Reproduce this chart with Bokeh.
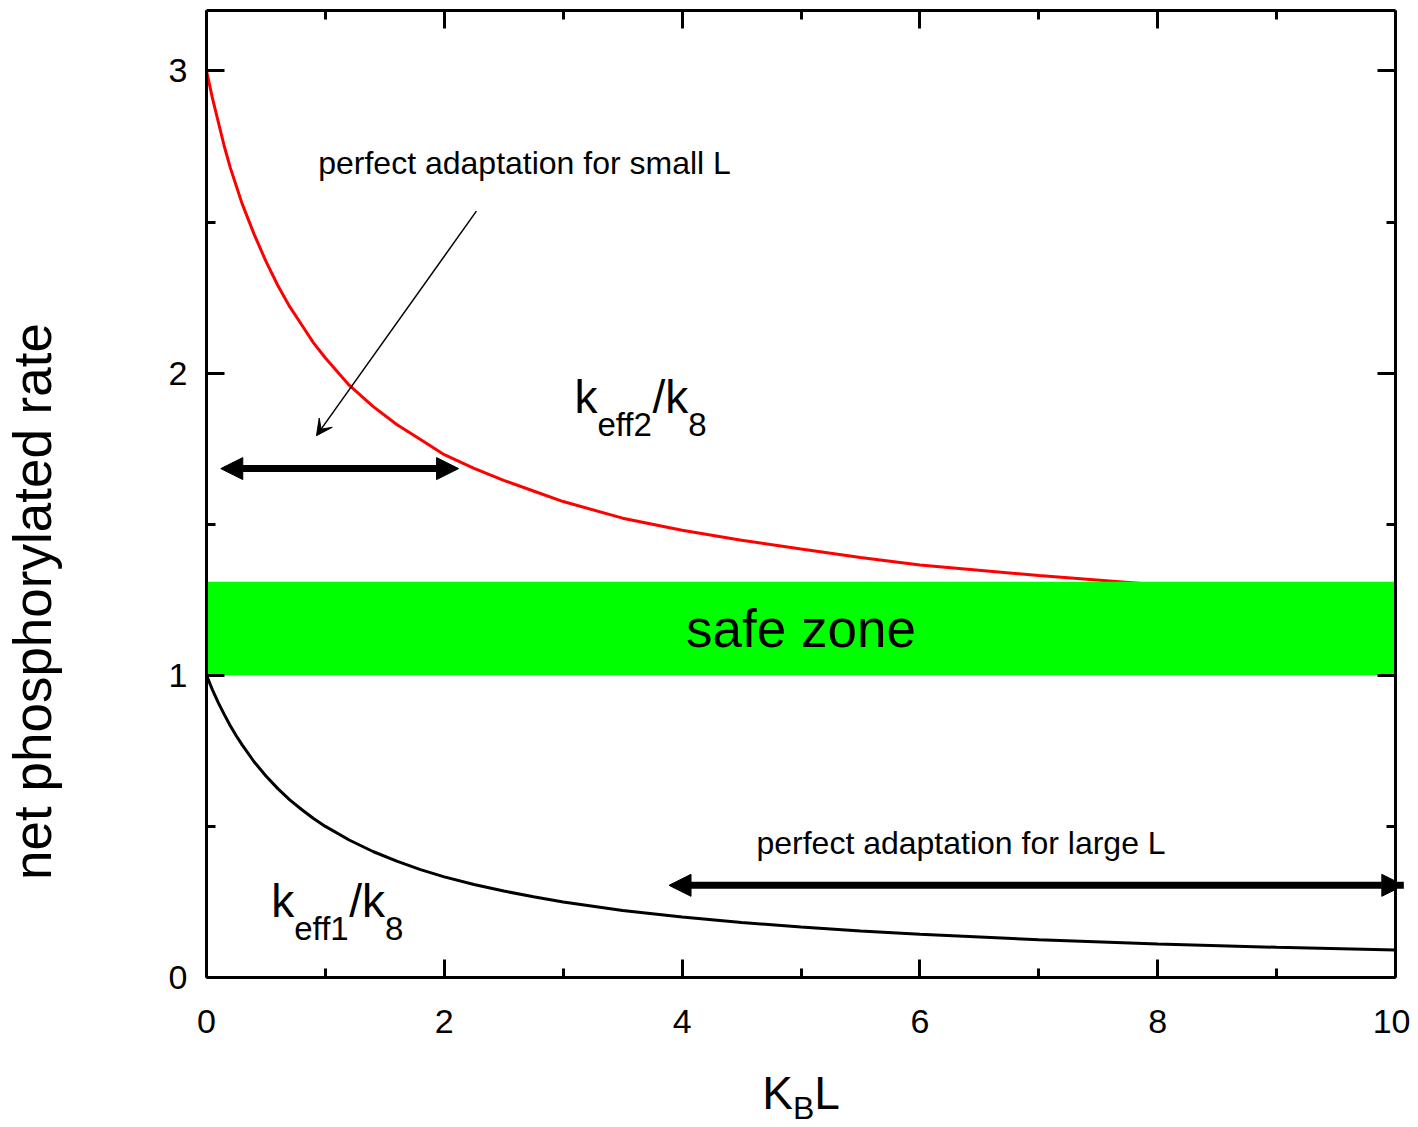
import math
from bokeh.plotting import figure
from bokeh.layouts import row, column
from bokeh.models import (Label, Arrow, NormalHead, VeeHead, FixedTicker, LinearAxis,
                          Range1d, CustomJSTickFormatter, ColumnDataSource)
from bokeh.embed import file_html
from bokeh.resources import INLINE

# ---------------- data ----------------
kbl = [0, 0.05, 0.1, 0.15, 0.2, 0.25, 0.3, 0.4, 0.5, 0.6, 0.7, 0.8, 0.9, 1.0, 1.2, 1.4, 1.6,
       1.8, 2.0, 2.25, 2.5, 2.75, 3, 3.5, 4, 4.5, 5, 5.5, 6, 7, 8, 9, 10]
keff2_k8 = [3.00, 2.91, 2.83, 2.75, 2.68, 2.62, 2.56, 2.46, 2.37, 2.29, 2.22, 2.16, 2.10, 2.05,
            1.96, 1.89, 1.83, 1.78, 1.73, 1.685, 1.645, 1.61, 1.575, 1.52, 1.48, 1.447, 1.418,
            1.39, 1.365, 1.33, 1.30, 1.28, 1.26]
keff1_k8 = [1.00, 0.952, 0.909, 0.87, 0.833, 0.80, 0.77, 0.714, 0.667, 0.625, 0.588, 0.556,
            0.526, 0.50, 0.455, 0.417, 0.385, 0.357, 0.333, 0.308, 0.286, 0.267, 0.25, 0.222,
            0.20, 0.182, 0.167, 0.154, 0.143, 0.125, 0.111, 0.10, 0.091]

x_major = [0, 2, 4, 6, 8, 10]
x_minor = [1, 3, 5, 7, 9]
y_major = [0, 1, 2, 3]
y_minor = [0.5, 1.5, 2.5]

safe_low = [1.0]
safe_high = [1.31]
safe_left = [0]
safe_right = [10]

small_L_arrow = [0.12, 2.12, 1.684]     # x_start, x_end, y
large_L_arrow = [3.89, 10.07, 0.305]    # x_start, x_end, y
pointer_arrow = [2.27, 2.536, 0.925, 1.793]  # x0, y0, x1, y1

FONT = "Liberation Sans"
LEFT_W = 70
BASE_FIX = 0.32   # renderer places the alphabetic baseline this many ems low

p = figure(width=1340, height=1060, x_range=Range1d(0, 10), y_range=Range1d(0, 3.2),
           output_backend="svg", toolbar_location=None,
           min_border_left=206 - LEFT_W, min_border_right=15, min_border_top=10,
           min_border_bottom=83)
p.xgrid.visible = False
p.ygrid.visible = False
p.outline_line_color = None
p.background_fill_color = "white"
p.border_fill_color = "white"


def style_axis(ax, major, minor, labels=True):
    ax.ticker = FixedTicker(ticks=major, minor_ticks=minor)
    ax.axis_line_width = 3
    ax.axis_line_color = "black"
    ax.major_tick_in = 18
    ax.major_tick_out = 0
    ax.minor_tick_in = 9
    ax.minor_tick_out = 0
    ax.major_tick_line_width = 3
    ax.minor_tick_line_width = 3
    ax.major_tick_line_color = "black"
    ax.minor_tick_line_color = "black"
    ax.major_label_text_font = FONT
    ax.major_label_text_font_size = "34px"
    ax.major_label_text_color = "black"
    if not labels:
        ax.formatter = CustomJSTickFormatter(code="return ''")
        ax.major_label_standoff = 0


style_axis(p.xaxis[0], x_major, x_minor)
p.xaxis[0].major_label_standoff = 32
style_axis(p.yaxis[0], y_major, y_minor)
p.yaxis[0].major_label_standoff = 19

top_axis = LinearAxis()
style_axis(top_axis, x_major, x_minor, labels=False)
p.add_layout(top_axis, "above")
right_axis = LinearAxis()
style_axis(right_axis, y_major, y_minor, labels=False)
p.add_layout(right_axis, "right")

# ---------------- curves ----------------
src = ColumnDataSource(dict(x=kbl, k2=keff2_k8, k1=keff1_k8))
p.line("x", "k2", source=src, line_color="#ff0000", line_width=3)
p.line("x", "k1", source=src, line_color="black", line_width=3)

# safe zone band (drawn over the red curve)
p.quad(left=safe_left, right=safe_right, bottom=safe_low, top=safe_high,
       fill_color="#00ff00", line_color=None)
p.add_layout(Label(x=5.0, y=1.155, text="safe zone", text_font=FONT, text_font_size="53px",
                   text_align="center", text_baseline="middle", text_color="black"))

# ---------------- arrows ----------------
def head():
    return NormalHead(size=22, fill_color="black", line_color="black", line_width=1)

p.add_layout(Arrow(x_start=small_L_arrow[0], y_start=small_L_arrow[2],
                   x_end=small_L_arrow[1], y_end=small_L_arrow[2],
                   start=head(), end=head(), line_width=7, line_color="black"))
p.add_layout(Arrow(x_start=large_L_arrow[0], y_start=large_L_arrow[2],
                   x_end=large_L_arrow[1], y_end=large_L_arrow[2],
                   start=head(), end=head(), line_width=7, line_color="black"))
p.add_layout(Arrow(x_start=pointer_arrow[0], y_start=pointer_arrow[1],
                   x_end=pointer_arrow[2], y_end=pointer_arrow[3],
                   end=VeeHead(size=16, fill_color="black", line_color="black", line_width=1),
                   line_width=1.5, line_color="black"))

# ---------------- annotations ----------------
for lx, ly, txt in [(2.675, 2.662, "perfect adaptation for small L"),
                    (6.346, 0.411, "perfect adaptation for large L")]:
    p.add_layout(Label(x=lx, y=ly, y_offset=BASE_FIX * 32, text=txt, text_font=FONT,
                       text_font_size="32px", text_align="center",
                       text_baseline="alphabetic", text_color="black"))

W = {"k": 0.5, "e": 0.556, "f": 0.278, "1": 0.556, "2": 0.556, "/": 0.278, "8": 0.556,
     "K": 0.667, "B": 0.667, "L": 0.556}


def compose(fig, x, y, pieces, big, small, drop):
    widths = [sum(W[c] for c in t) * (small if sub else big) for t, sub in pieces]
    off = -sum(widths) / 2
    for (t, sub), w in zip(pieces, widths):
        size = small if sub else big
        fig.add_layout(Label(x=x, y=y, x_offset=off,
                             y_offset=(-drop if sub else 0) + BASE_FIX * size, text=t,
                             text_font=FONT, text_font_size=f"{size}px",
                             text_align="left", text_baseline="alphabetic",
                             text_color="black"))
        off += w


compose(p, 3.65, 1.873, [("k", False), ("eff2", True), ("/k", False), ("8", True)], 46, 33, 24)
compose(p, 1.10, 0.2055, [("k", False), ("eff1", True), ("/k", False), ("8", True)], 46, 33, 24)

# ---------------- x-axis title K_B L (strip below the plot) ----------------
xt = figure(width=1340, height=65, x_range=p.x_range, y_range=Range1d(0, 65),
            output_backend="svg", toolbar_location=None, x_axis_type=None, y_axis_type=None,
            min_border_left=206 - LEFT_W, min_border_right=15, min_border_top=0,
            min_border_bottom=0)
xt.grid.visible = False
xt.outline_line_color = None
compose(xt, 5.0, 18, [("K", False), ("B", True), ("L", False)], 46, 32, 11)

# ---------------- y-axis title (strip left of the plot) ----------------
yt = figure(width=LEFT_W, height=1125, x_range=Range1d(0, LEFT_W), y_range=Range1d(0, 1125),
            output_backend="svg", toolbar_location=None, x_axis_type=None, y_axis_type=None,
            min_border=0)
yt.grid.visible = False
yt.outline_line_color = None
yt.add_layout(Label(x=49 - BASE_FIX * 53, y=1125 - 601, text="net phosphorylated rate",
                    angle=math.pi / 2, text_font=FONT, text_font_size="53px",
                    text_align="center", text_baseline="alphabetic", text_color="black"))

layout = row(yt, column(p, xt, spacing=0), spacing=0)
open("out.html", "w").write(file_html(layout, INLINE))
